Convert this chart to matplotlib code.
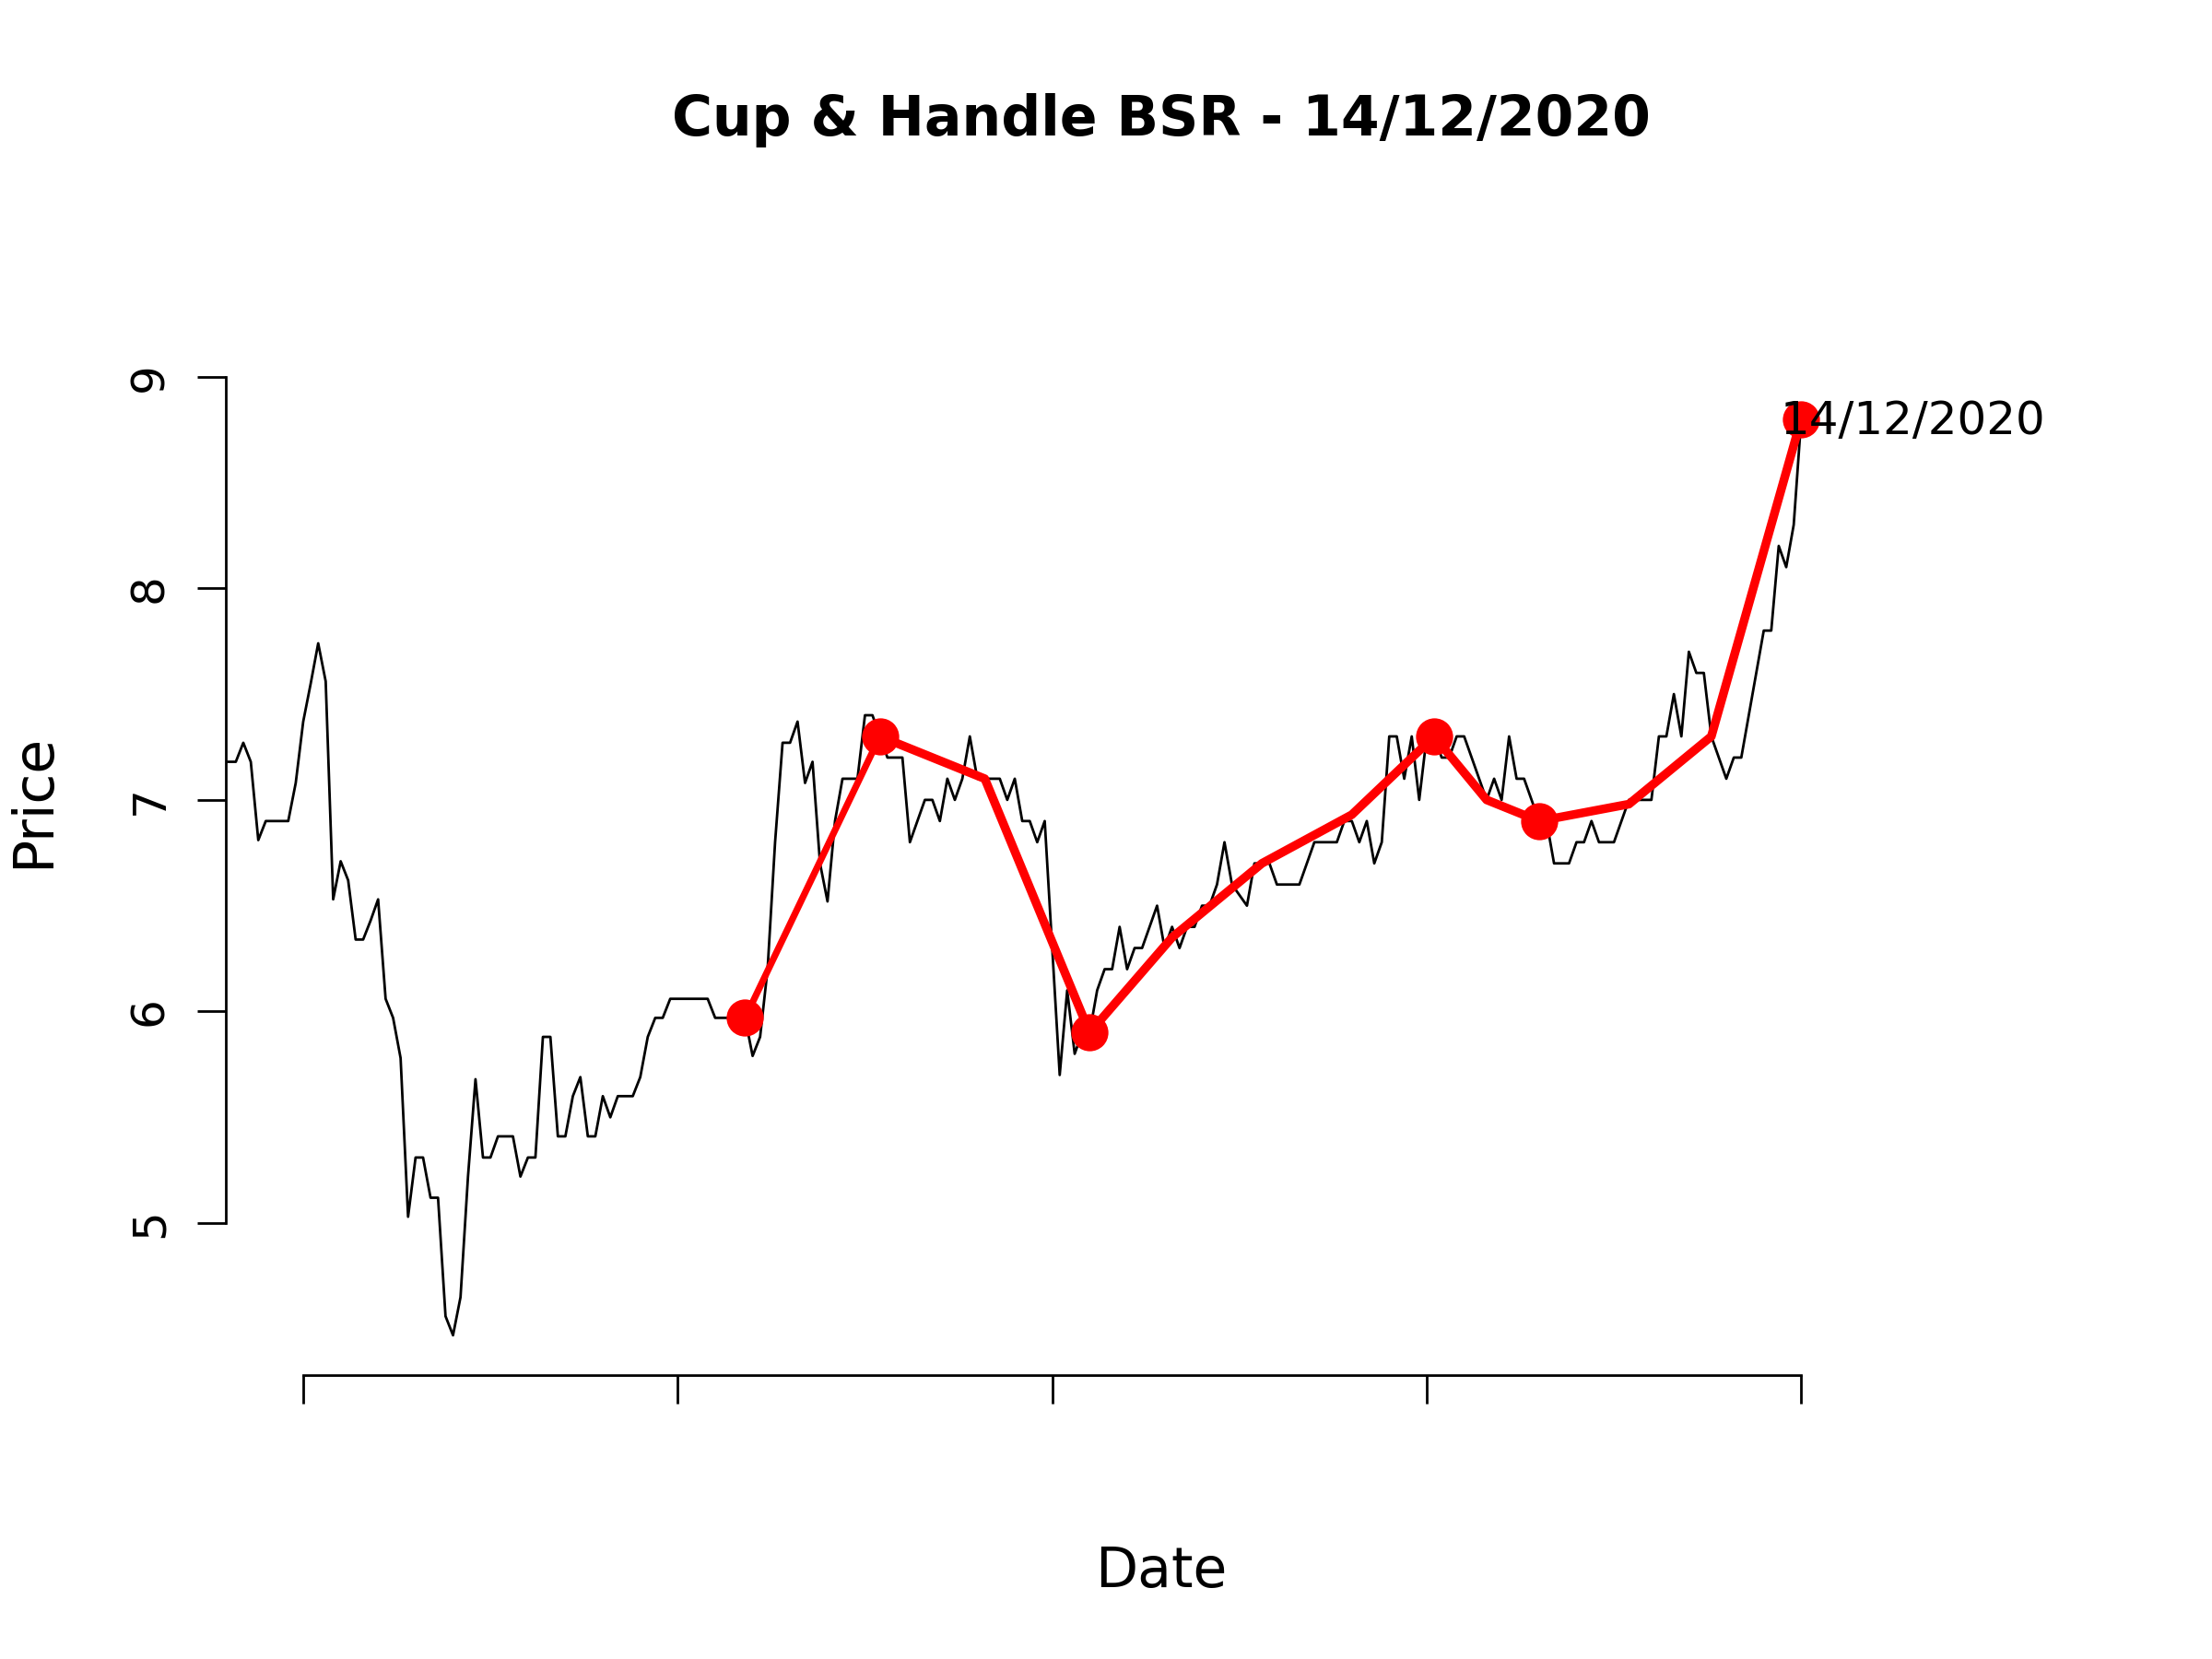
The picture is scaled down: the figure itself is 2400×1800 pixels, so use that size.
import matplotlib
matplotlib.use("Agg")
import matplotlib.pyplot as plt

# trading day index (x axis has no date labels in the original)
day = list(range(40, 251))
price = [
    7.18, 7.18, 7.27, 7.18, 6.81, 6.90, 6.90, 6.90, 6.90, 7.08,
    7.37, 7.55, 7.74, 7.56, 6.53, 6.71, 6.62, 6.34, 6.34, 6.43,
    6.53, 6.06, 5.97, 5.78, 5.03, 5.31, 5.31, 5.12, 5.12, 4.56,
    4.47, 4.65, 5.22, 5.68, 5.31, 5.31, 5.41, 5.41, 5.41, 5.22,
    5.31, 5.31, 5.88, 5.88, 5.41, 5.41, 5.60, 5.69, 5.41, 5.41,
    5.60, 5.50, 5.60, 5.60, 5.60, 5.69, 5.88, 5.97, 5.97, 6.06,
    6.06, 6.06, 6.06, 6.06, 6.06, 5.97, 5.97, 5.97, 5.97, 5.97,
    5.79, 5.88, 6.20, 6.80, 7.27, 7.27, 7.37, 7.08, 7.18, 6.70,
    6.52, 6.90, 7.10, 7.10, 7.10, 7.40, 7.40, 7.30, 7.20, 7.20,
    7.20, 6.80, 6.90, 7.00, 7.00, 6.90, 7.10, 7.00, 7.10, 7.30,
    7.10, 7.10, 7.10, 7.10, 7.00, 7.10, 6.90, 6.90, 6.80, 6.90,
    6.30, 5.70, 6.10, 5.80, 5.90, 5.90, 6.10, 6.20, 6.20, 6.40,
    6.20, 6.30, 6.30, 6.40, 6.50, 6.30, 6.40, 6.30, 6.40, 6.40,
    6.50, 6.50, 6.60, 6.80, 6.60, 6.55, 6.50, 6.70, 6.70, 6.70,
    6.60, 6.60, 6.60, 6.60, 6.70, 6.80, 6.80, 6.80, 6.80, 6.90,
    6.90, 6.80, 6.90, 6.70, 6.80, 7.30, 7.30, 7.10, 7.30, 7.00,
    7.30, 7.30, 7.20, 7.20, 7.30, 7.30, 7.20, 7.10, 7.00, 7.10,
    7.00, 7.30, 7.10, 7.10, 7.00, 6.90, 6.90, 6.70, 6.70, 6.70,
    6.80, 6.80, 6.90, 6.80, 6.80, 6.80, 6.90, 7.00, 7.00, 7.00,
    7.00, 7.30, 7.30, 7.50, 7.30, 7.70, 7.60, 7.60, 7.30, 7.20,
    7.10, 7.20, 7.20, 7.40, 7.60, 7.80, 7.80, 8.20, 8.10, 8.30,
    8.80,
]

# pattern line
pivot_day = [109, 127, 141, 155, 166, 178, 190, 201, 208, 215, 227, 238, 250]
pivot_price = [5.97, 7.30, 7.10, 5.90, 6.35, 6.70, 6.93, 7.30, 7.00, 6.90, 6.98, 7.30, 8.80]

# key points of the pattern
key_day = [109, 127, 155, 201, 215, 250]
key_price = [5.97, 7.30, 5.90, 7.30, 6.90, 8.80]

x_ticks = [50, 100, 150, 200, 250]
y_ticks = [5, 6, 7, 8, 9]
title = "Cup & Handle BSR - 14/12/2020"
last_label = "14/12/2020"

fig = plt.figure(figsize=(12, 9), dpi=200)
ax = fig.add_axes([0.102, 0.1709, 0.8457, 0.6939])

ax.plot(day, price, color="black", lw=1.0, solid_joinstyle="round", zorder=2)
ax.plot(pivot_day[:2], pivot_price[:2], color="red", lw=2.6,
        solid_capstyle="round", zorder=3)
ax.plot(pivot_day[1:], pivot_price[1:], color="red", lw=3.4,
        solid_joinstyle="round", solid_capstyle="round", zorder=3)
ax.plot(key_day, key_price, "o", color="red", ms=14.5, mew=0, clip_on=False, zorder=4)
ax.text(247.2, 8.727, last_label, fontsize=18, ha="left", va="baseline", zorder=5)

ax.set_xlim(39.64, 289.4)
ax.set_ylim(4.28, 9.72)

# base R look
for s in ["top", "right"]:
    ax.spines[s].set_visible(False)
ax.spines["left"].set_bounds(5, 9)
ax.spines["bottom"].set_bounds(50, 250)
ax.spines["left"].set_linewidth(1.0)
ax.spines["bottom"].set_linewidth(1.0)

ax.set_xticks(x_ticks)
ax.set_xticklabels([])
ax.set_yticks(y_ticks)
ax.set_yticklabels([str(v) for v in y_ticks], rotation=90, va="center", fontsize=18)
ax.tick_params(direction="out", length=11, width=1.0)
ax.tick_params(axis="y", pad=10)

fig.text(0.5249, 0.9184, title, fontsize=21.6, fontweight="bold", ha="center", va="baseline")
fig.text(0.5249, 0.0434, "Date", fontsize=21.6, ha="center", va="baseline")
fig.text(0.0223, 0.5172, "Price", fontsize=21.6, rotation=90, rotation_mode="anchor",
         ha="center", va="baseline")

fig.savefig("out.png", dpi=200)
